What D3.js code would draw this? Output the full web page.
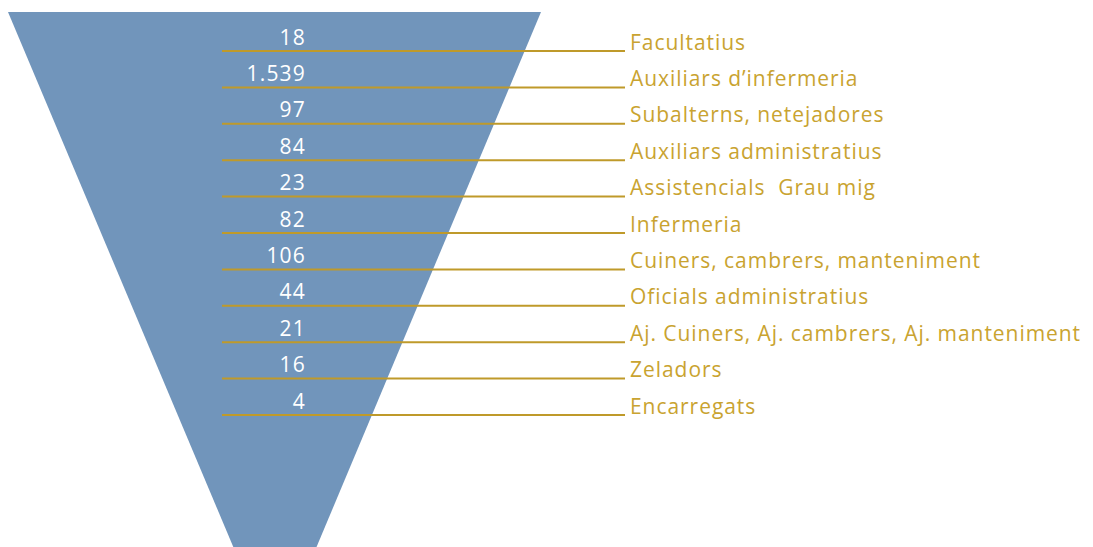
<!DOCTYPE html>
<html>
<head>
<meta charset="utf-8">
<script src="https://cdn.jsdelivr.net/npm/d3@7"></script>
<style>
  html, body { margin: 0; padding: 0; background: #fff; }
  svg { display: block; }
</style>
</head>
<body>
<div id="chart"></div>
<script>
// categories, top to bottom
let categories = [
  "Facultatius",
  "Auxiliars d\u2019infermeria",
  "Subalterns, netejadores",
  "Auxiliars administratius",
  "Assistencials  Grau mig",
  "Infermeria",
  "Cuiners, cambrers, manteniment",
  "Oficials administratius",
  "Aj. Cuiners, Aj. cambrers, Aj. manteniment",
  "Zeladors",
  "Encarregats"
];
let values = [18, 1539, 97, 84, 23, 82, 106, 44, 21, 16, 4];

let W = 1093, H = 547;
let fillCol = "#7195bb";
let lineCol = "#bf9a2a";
let labelCol = "#c9a330";

let svg = d3.select("#chart").append("svg")
  .attr("width", W)
  .attr("height", H);

// row positions
let y = d3.scalePoint()
  .domain(categories)
  .range([51, 415]);

// funnel shape: width shrinks linearly going down
let topY = 12, apexY = 646;
let xl = d3.scaleLinear().domain([topY, apexY]).range([8, 275]);
let xr = d3.scaleLinear().domain([topY, apexY]).range([541, 275]);

svg.append("path")
  .attr("d", "M" + xl(topY) + "," + topY +
             " L" + xr(topY) + "," + topY +
             " L" + xr(apexY) + "," + apexY + " Z")
  .attr("fill", fillCol);

let fmt = d3.formatLocale({decimal: ",", thousands: ".", grouping: [3], currency: ["", ""]}).format(",d");

let g = svg.selectAll("g.row")
  .data(categories.map(function(c, i) { return {cat: c, val: values[i]}; }))
  .enter().append("g")
    .attr("class", "row")
    .attr("transform", function(d) { return "translate(0," + y(d.cat) + ")"; });

g.append("line")
  .attr("x1", 222).attr("x2", 625)
  .attr("y1", 0).attr("y2", 0)
  .attr("stroke", lineCol)
  .attr("stroke-width", 2);

g.append("text")        // value
  .attr("x", 306)
  .attr("y", -6.5)
  .attr("text-anchor", "end")
  .attr("fill", "#fff")
  .style("font-family", "'Open Sans', sans-serif")
  .style("font-size", "21px")
  .style("letter-spacing", "1.2px")
  .text(function(d) { return fmt(d.val); });

g.append("text")        // category label
  .attr("x", 630)
  .attr("y", -1.5)
  .attr("fill", labelCol)
  .style("font-family", "'Open Sans', sans-serif")
  .style("font-size", "21px")
  .style("letter-spacing", "0.95px")
  .style("white-space", "pre")
  .text(function(d) { return d.cat; });
</script>
</body>
</html>
